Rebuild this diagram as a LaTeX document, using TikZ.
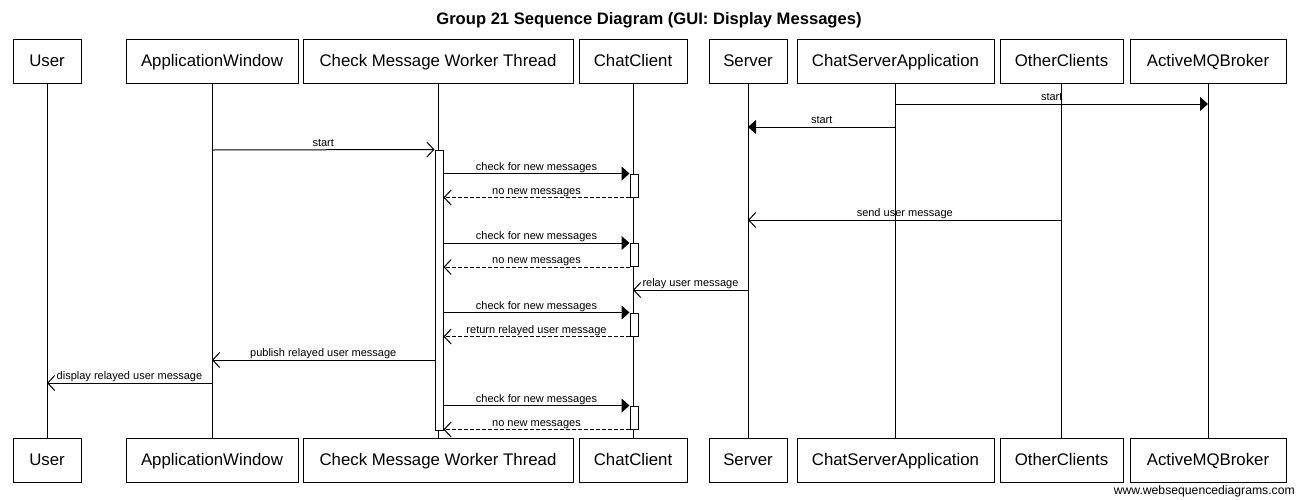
\documentclass[tikz,border=0pt]{standalone}
\usepackage{fontspec}
\setmainfont{Liberation Sans}
\usetikzlibrary{positioning}
\usetikzlibrary{arrows.meta}

\tikzset{
  actor/.style={draw, line width=1pt, minimum height=44pt, inner sep=0pt, text height=12.8pt, text depth=2.5pt, font=\fontsize{16.8}{18}\selectfont},
  lifeline/.style={line width=1pt},
  activation/.style={draw, fill=white, line width=1pt, minimum width=8pt, inner sep=0pt},
  call/.style={line width=1pt, -{Triangle[length=8pt,width=14pt]}},
  send/.style={line width=1pt, -{Straight Barb[length=7pt,width=15pt]}},
  reply/.style={send, dash pattern=on 4pt off 2pt},
  msg/.style={above, font=\fontsize{11}{12}\selectfont, text height=8pt, text depth=2.5pt, inner sep=0.3pt}
}

\begin{document}
\begin{tikzpicture}[x=1pt,y=-1pt]
\useasboundingbox (0,0) rectangle (1296,499);
\node[font=\bfseries\fontsize{16.6}{18}\selectfont] (title) at (649,20) {Group 21 Sequence Diagram (GUI: Display Messages)};

% participants, top and bottom
\foreach \n/\x/\w/\t in {user/47/68/User, appwin/212/172/ApplicationWindow,
    worker/438/270/Check Message Worker Thread, client/633/108/ChatClient,
    server/748/78/Server, csa/895.5/197/ChatServerApplication,
    others/1061.5/123/OtherClients, broker/1208/156/ActiveMQBroker}
{
  \node[actor, minimum width=\w pt] (\n) at (\x,61) {\t};
  \node[actor, minimum width=\w pt] (\n-end) at (\x,460) {\t};
  \draw[lifeline] (\n) -- (\n-end);
}

% activations
\node[activation, minimum height=280pt] (worker-act) at (439,290) {};
\foreach \i/\y in {1/185.5, 2/255, 3/324.5, 4/417.5}
  \node[activation, minimum height=23pt] (client-act\i) at (634,\y) {};

\path
  (csa |- 0,104) edge[call] node[msg] {start} (broker |- 0,104)
  (csa |- 0,127) edge[call] node[msg] {start} (server |- 0,127)
  (appwin |- 0,150) edge[send] node[msg] {start} (worker-act.north west)
  (worker-act.east |- client-act1.north) edge[call] node[msg] {check for new messages} (client-act1.north west)
  (client-act1.south west) edge[reply] node[msg] {no new messages} (worker-act.east |- client-act1.south)
  (others |- 0,220) edge[send] node[msg] {send user message} (server |- 0,220)
  (worker-act.east |- client-act2.north) edge[call] node[msg] {check for new messages} (client-act2.north west)
  (client-act2.south west) edge[reply] node[msg] {no new messages} (worker-act.east |- client-act2.south)
  (server |- 0,290) edge[send] node[msg] {relay user message} (client |- 0,290)
  (worker-act.east |- client-act3.north) edge[call] node[msg] {check for new messages} (client-act3.north west)
  (client-act3.south west) edge[reply] node[msg] {return relayed user message} (worker-act.east |- client-act3.south)
  (worker-act.west |- 0,360) edge[send] node[msg] {publish relayed user message} (appwin |- 0,360)
  (appwin |- 0,383) edge[send] node[msg] {display relayed user message} (user |- 0,383)
  (worker-act.east |- client-act4.north) edge[call] node[msg] {check for new messages} (client-act4.north west)
  (client-act4.south west) edge[reply] node[msg] {no new messages} (worker-act.east |- client-act4.south)
  ;

\node[anchor=east, inner sep=0pt, font=\fontsize{12.2}{14}\selectfont] (footer) at (1295,491) {www.websequencediagrams.com};
\end{tikzpicture}
\end{document}
